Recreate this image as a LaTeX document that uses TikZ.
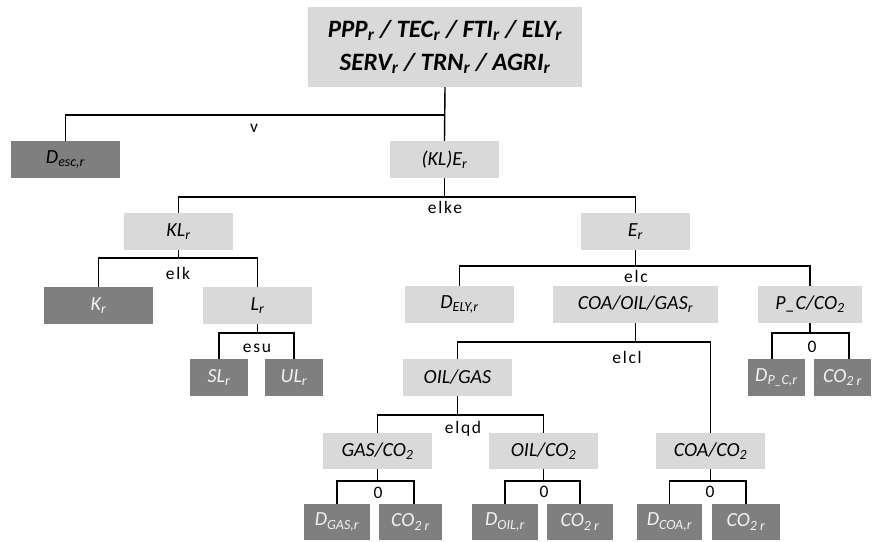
\documentclass[tikz,border=0pt]{standalone}
\usepackage{fontspec}
\setmainfont{Carlito}
\newfontfamily\lblfont[LetterSpace=10]{Carlito}
\definecolor{lightbox}{HTML}{D9D9D9}
\definecolor{darkbox}{HTML}{7F7F7F}
\definecolor{lighttext}{HTML}{F2F2F2}
\newcommand{\sbr}[1]{\textsubscript{#1}}
\tikzset{
  box/.style={rectangle, inner sep=0pt, minimum height=37pt, minimum width=109pt, font=\fontsize{20}{24}\selectfont\itshape},
  lbox/.style={box, fill=lightbox, text=black},
  dbox/.style={box, fill=darkbox, text=lighttext},
  conn/.style={draw=black, line width=1.4pt},
  lbl/.style={font=\lblfont\fontsize{17.5}{20}\selectfont, inner sep=0pt}
}
\begin{document}
\begin{tikzpicture}[x=1pt,y=-1pt]
\useasboundingbox (0,0) rectangle (873,541);
% nodes
\node[lbox, minimum width=274pt, minimum height=80pt, align=center, font=\fontsize{25}{33}\selectfont\bfseries\itshape] (top) at (445,47)
  {PPP\sbr{r} / TEC\sbr{r} / FTI\sbr{r} / ELY\sbr{r}\\SERV\sbr{r} / TRN\sbr{r} / AGRI\sbr{r}};
\node[dbox, text=black] (desc) at (65.5,159.5) {D\sbr{esc,r}};
\node[lbox] (kle) at (444.5,159.5) {(KL)E\sbr{r}};
\node[lbox] (kl) at (178.5,231.5) {KL\sbr{r}};
\node[lbox] (e) at (635.5,231.5) {E\sbr{r}};
\node[dbox] (k) at (98.5,305.5) {K\sbr{r}};
\node[lbox] (l) at (257.5,305.5) {L\sbr{r}};
\node[lbox] (dely) at (459.5,304.5) {D\sbr{ELY,r}};
\node[lbox, minimum width=165pt] (cog) at (635.5,304.5) {COA/OIL/GAS\sbr{r}};
\node[lbox, minimum width=104pt] (pc) at (810,304.5) {P\_C/CO\sbr{2}};
\node[dbox, minimum width=58pt] (sl) at (219,377.5) {SL\sbr{r}};
\node[dbox, minimum width=58pt] (ul) at (294,377.5) {UL\sbr{r}};
\node[dbox, minimum width=57pt] (dpc) at (776.5,377.5) {D\sbr{P\_C,r}};
\node[dbox, minimum width=57pt] (copc) at (842.5,377.5) {CO\sbr{2 r}};
\node[lbox] (og) at (457.5,377.5) {OIL/GAS};
\node[lbox, minimum height=36pt] (gc) at (377.5,451) {GAS/CO\sbr{2}};
\node[lbox, minimum height=36pt] (oc) at (543.5,451) {OIL/CO\sbr{2}};
\node[lbox, minimum height=36pt] (cc) at (710.5,451) {COA/CO\sbr{2}};
\node[dbox, minimum height=36pt, minimum width=66pt] (dgas) at (337,522) {D\sbr{GAS,r}};
\node[dbox, minimum height=36pt, minimum width=63pt] (cog2) at (410.5,522) {CO\sbr{2 r}};
\node[dbox, minimum height=36pt, minimum width=66pt] (doil) at (505,522) {D\sbr{OIL,r}};
\node[dbox, minimum height=36pt, minimum width=66pt] (coo2) at (580,522) {CO\sbr{2 r}};
\node[dbox, minimum height=36pt, minimum width=65pt] (dcoa) at (669.5,522) {D\sbr{COA,r}};
\node[dbox, minimum height=36pt, minimum width=68pt] (coc2) at (746,522) {CO\sbr{2 r}};
% junction coordinates
\coordinate (hTop) at (445,115);
\coordinate (hKLE) at (444.5,197);
\coordinate (hKL) at (178.5,258);
\coordinate (hL) at (257.5,333);
\coordinate (hE) at (635.5,266);
\coordinate (hPC) at (810,333);
\coordinate (pcL) at (772,359);
\coordinate (pcR) at (849,359);
\coordinate (hCOG) at (635.5,342);
\coordinate (hOG) at (457.5,415);
\coordinate (hGC) at (377.5,481);
\coordinate (gcR) at (414,504);
\coordinate (hOC) at (543.5,481);
\coordinate (hCC) at (710.5,481);
% connectors
\draw[conn] (top.south) -- (kle.north);
\draw[conn] (desc.north) |- (hTop);
\draw[conn] (kle.south) -- (hKLE);
\draw[conn] (kl.north) |- (hKLE) -| (e.north);
\draw[conn] (kl.south) -- (hKL);
\draw[conn] (k.north) |- (hKL) -| (l.north);
\draw[conn] (l.south) -- (hL);
\draw[conn] (sl.north) |- (hL) -| (ul.north);
\draw[conn] (e.south) -- (hE);
\draw[conn] (dely.north) |- (hE) -| (pc.north);
\draw[conn] (pc.south) -- (hPC);
\draw[conn] (pcL) |- (hPC) -| (pcR);
\draw[conn] (cog.south) -- (hCOG);
\draw[conn] (og.north) |- (hCOG) -| (cc.north);
\draw[conn] (og.south) -- (hOG);
\draw[conn] (gc.north) |- (hOG) -| (oc.north);
\draw[conn] (gc.south) -- (hGC);
\draw[conn] (dgas.north) |- (hGC) -| (gcR);
\draw[conn] (oc.south) -- (hOC);
\draw[conn] (doil.north) |- (hOC) -| (coo2.north);
\draw[conn] (cc.south) -- (hCC);
\draw[conn] (dcoa.north) |- (hCC) -| (coc2.north);
% labels
\node[lbl] (lv) at (254,128) {v};
\node[lbl] (lelke) at (445,207) {elke};
\node[lbl] (lelk) at (178,273) {elk};
\node[lbl] (lesu) at (257,348) {esu};
\node[lbl] (lelc) at (636,276) {elc};
\node[lbl] (lzpc) at (812,347) {0};
\node[lbl] (lelcl) at (627,357) {elcl};
\node[lbl] (lelqd) at (463,429) {elqd};
\node[lbl] (lzg) at (378,493) {0};
\node[lbl] (lzo) at (544,492) {0};
\node[lbl] (lzc) at (710,492) {0};
\end{tikzpicture}
\end{document}
